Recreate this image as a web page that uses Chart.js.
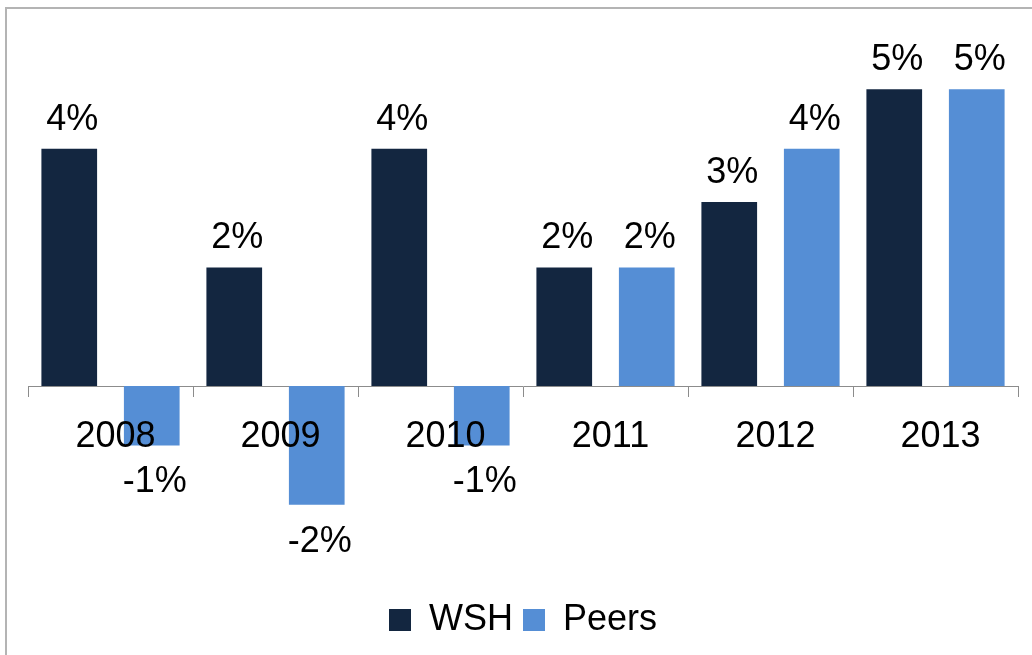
<!doctype html>
<html>
  <head>
    <meta charset="utf-8">
    <title>WSH vs Peers</title>
    <style>
      html, body {
	  margin: 0;
	  padding: 0;
	  background: #fff;
      }
      #frame {
	  position: absolute;
	  left: 5px;
	  top: 7px;
	  width: 1040px;
	  height: 660px;
	  border: 2px solid #b4b4b4;
      }
      #wrap {
	  position: absolute;
	  left: 0;
	  top: 0;
	  width: 1032px;
	  height: 655px;
      }
    </style>
    <script src="https://cdn.jsdelivr.net/npm/chart.js@4.4.1/dist/chart.umd.min.js"></script>
  </head>
  <body>
    <div id="frame"></div>
    <div id="wrap"><canvas id="barChart"></canvas></div>
  </body>
  <script>
    const years = ["2008", "2009", "2010", "2011", "2012", "2013"];
    const wsh = [4.0, 2.0, 4.0, 2.0, 3.1, 5.0];
    const peers = [-1.0, -2.0, -1.0, 2.0, 4.0, 5.0];
    const wshLabels = ["4%", "2%", "4%", "2%", "3%", "5%"];
    const peersLabels = ["-1%", "-2%", "-1%", "2%", "4%", "5%"];

    const FONT = "'Liberation Sans', Arial, sans-serif";

    // value labels above / below each bar
    const barLabels = {
	id: "barLabels",
	afterDatasetsDraw(chart) {
	    const ctx = chart.ctx;
	    const texts = [wshLabels, peersLabels];
	    ctx.save();
	    ctx.font = "36px " + FONT;
	    ctx.fillStyle = "#000";
	    ctx.textAlign = "center";
	    ctx.textBaseline = "alphabetic";
	    chart.data.datasets.forEach((ds, i) => {
		chart.getDatasetMeta(i).data.forEach((bar, j) => {
		    if (ds.data[j] >= 0) {
			ctx.fillText(texts[i][j], bar.x + 3, bar.y - 19);
		    } else {
			ctx.fillText(texts[i][j], bar.x + 3, bar.y + 47);
		    }
		});
	    });
	    ctx.restore();
	}
    };

    new Chart(document.getElementById("barChart"), {
	type: "bar",
	data: {
	    labels: years,
	    datasets: [{
		label: "WSH",
		data: wsh,
		backgroundColor: "#132640",
		categoryPercentage: 1.0,
		barPercentage: 0.675
	    }, {
		label: "Peers",
		data: peers,
		backgroundColor: "#558ed5",
		categoryPercentage: 1.0,
		barPercentage: 0.675
	    }]
	},
	options: {
	    responsive: true,
	    maintainAspectRatio: false,
	    animation: false,
	    layout: {
		padding: {left: 28, right: 14, top: 30, bottom: 7}
	    },
	    plugins: {
		legend: {
		    position: "bottom",
		    labels: {
			boxWidth: 22,
			boxHeight: 22,
			color: "#000",
			font: {family: FONT, size: 36}
		    }
		},
		tooltip: {enabled: false}
	    },
	    scales: {
		x: {
		    position: {y: 0},
		    grid: {
			drawOnChartArea: false,
			tickLength: 10,
			color: "#8c8c8c"
		    },
		    border: {color: "#8c8c8c", width: 1},
		    ticks: {
			z: 1,
			color: "#000",
			padding: 19,
			labelOffset: 5,
			font: {family: FONT, size: 36}
		    }
		},
		y: {
		    display: false,
		    min: -3.47,
		    max: 6
		}
	    }
	},
	plugins: [barLabels]
    });
  </script>
</html>
